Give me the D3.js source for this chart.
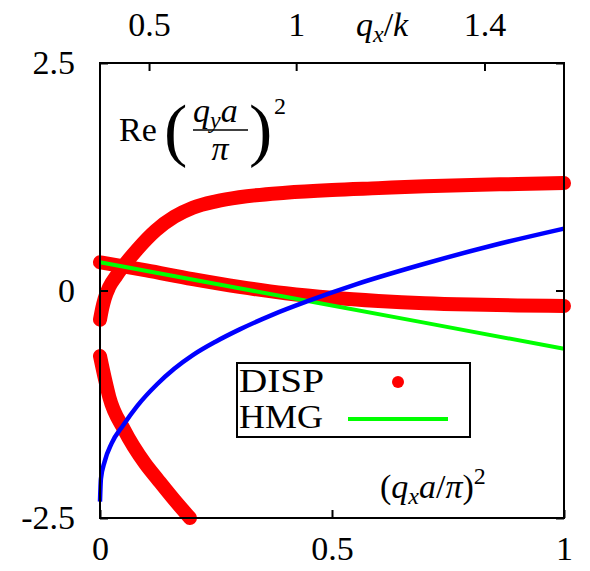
<!DOCTYPE html>
<html>
<head>
<meta charset="utf-8">
<script src="https://cdn.jsdelivr.net/npm/d3@7"></script>
<style>
  body { margin: 0; background: #fff; }
  text { font-family: "Liberation Serif", "Times New Roman", serif; fill: #000; }
</style>
</head>
<body>
<svg id="chart" width="590" height="571"></svg>
<script>
// data, u = (q_x a / pi)^2
var dispUpperU = [0, 0.005, 0.01, 0.02, 0.035, 0.05, 0.08, 0.12, 0.16, 0.2, 0.25, 0.3, 0.4, 0.5, 0.6, 0.7, 0.8, 0.9, 1.0];
var dispUpperV = [-0.32, -0.19, -0.09, 0.04, 0.16, 0.265, 0.45, 0.66, 0.81, 0.91, 0.98, 1.025, 1.075, 1.105, 1.125, 1.145, 1.16, 1.17, 1.18];

var dispLowerU = [0, 0.1, 0.2, 0.3, 0.4, 0.5, 0.6, 0.7, 0.8, 0.9, 1.0];
var dispLowerV = [0.31, 0.22, 0.125, 0.04, -0.03, -0.08, -0.115, -0.14, -0.155, -0.165, -0.17];

var dispThirdU = [0, 0.011, 0.02, 0.052, 0.097, 0.125, 0.16, 0.194];
var dispThirdV = [-0.72, -0.98, -1.17, -1.53, -1.9, -2.08, -2.3, -2.5];

var hmgU = [0, 0.3, 0.69, 1.0];
var hmgV = [0.31, 0.025, -0.345, -0.64];

var blueU = [0, 0.002, 0.01, 0.025, 0.05, 0.08, 0.123, 0.16, 0.2, 0.25, 0.3, 0.37, 0.446, 0.55, 0.69, 0.85, 1.0];
var blueV = [-2.32, -2.07, -1.88, -1.68, -1.48, -1.27, -1.03, -0.86, -0.71, -0.56, -0.43, -0.27, -0.12, 0.065, 0.28, 0.5, 0.68];

var xTicks = [0, 0.5, 1];
var yTicks = [-2.5, 0, 2.5];
var yTickLabels = ["-2.5", "0", "2.5"];
var x2Ticks = [0.5, 1, 1.4];
var kaMax = 1.538; // q_x/k at (q_x a/pi)^2 = 1

var svg = d3.select("#chart");
var pLeft = 100, pRight = 564, pTop = 63, pBottom = 518;

var x = d3.scaleLinear().domain([0, 1]).range([pLeft, pRight]);
var y = d3.scaleLinear().domain([-2.5, 2.5]).range([pBottom, pTop]);
var x2 = d3.scalePow().exponent(2).domain([0, kaMax]).range([pLeft, pRight]);

function pairs(us, vs) { return us.map(function(u, i) { return [u, vs[i]]; }); }

var line = d3.line()
    .x(function(d) { return x(d[0]); })
    .y(function(d) { return y(d[1]); })
    .curve(d3.curveMonotoneX);

// DISP points (dense, drawn as a thick band)
[pairs(dispUpperU, dispUpperV), pairs(dispLowerU, dispLowerV), pairs(dispThirdU, dispThirdV)]
  .forEach(function(d) {
    svg.append("path")
        .attr("d", line(d))
        .attr("fill", "none")
        .attr("stroke", "#ff0000")
        .attr("stroke-width", 14)
        .attr("stroke-linecap", "round")
        .attr("stroke-linejoin", "round");
  });

svg.append("path")
    .attr("d", line(pairs(hmgU, hmgV)))
    .attr("fill", "none")
    .attr("stroke", "#00ff00")
    .attr("stroke-width", 4);

svg.append("path")
    .attr("d", line(pairs(blueU, blueV)))
    .attr("fill", "none")
    .attr("stroke", "#0000ff")
    .attr("stroke-width", 4.5);

// frame
svg.append("rect")
    .attr("x", pLeft).attr("y", pTop)
    .attr("width", pRight - pLeft).attr("height", pBottom - pTop)
    .attr("fill", "none").attr("stroke", "#000").attr("stroke-width", 2);

function styleAxis(g) {
  g.select(".domain").remove();
  g.selectAll(".tick line").attr("stroke", "#000").attr("stroke-width", 2);
  g.selectAll(".tick text").attr("font-size", 34).attr("font-family", "Liberation Serif").attr("fill", "#000");
}

svg.append("g")
    .attr("transform", "translate(0," + pBottom + ")")
    .call(d3.axisBottom(x).tickValues(xTicks).tickFormat(d3.format("")).tickSizeInner(-8).tickSizeOuter(0).tickPadding(18))
    .call(styleAxis);

svg.append("g")
    .attr("transform", "translate(" + pLeft + ",0)")
    .call(d3.axisLeft(y).tickValues(yTicks).tickFormat(function(d, i) { return yTickLabels[i]; })
      .tickSizeInner(-8).tickSizeOuter(0).tickPadding(25))
    .call(styleAxis);

svg.append("g")
    .attr("transform", "translate(" + pRight + ",0)")
    .call(d3.axisRight(y).tickValues(yTicks).tickFormat("").tickSizeInner(-8).tickSizeOuter(0))
    .call(styleAxis);

svg.append("g")
    .attr("transform", "translate(0," + pTop + ")")
    .call(d3.axisTop(x2).tickValues(x2Ticks).tickFormat(d3.format("")).tickSizeInner(-8).tickSizeOuter(0).tickPadding(27))
    .call(styleAxis);

// top axis title q_x/k
var t2 = svg.append("text").attr("x", 356).attr("y", 36).attr("font-size", 34);
t2.append("tspan").attr("font-style", "italic").text("q");
t2.append("tspan").attr("font-style", "italic").attr("font-size", 24).attr("dy", 6).text("x");
t2.append("tspan").attr("dy", -6).text("/");
t2.append("tspan").attr("font-style", "italic").text("k");

// bottom axis title (q_x a/pi)^2
var tb = svg.append("text").attr("x", 380).attr("y", 498).attr("font-size", 34);
tb.append("tspan").text("(");
tb.append("tspan").attr("font-style", "italic").text("q");
tb.append("tspan").attr("font-style", "italic").attr("font-size", 24).attr("dy", 6).text("x");
tb.append("tspan").attr("font-style", "italic").attr("dy", -6).text("a");
tb.append("tspan").text("/");
tb.append("tspan").attr("font-style", "italic").text("\u03c0");
tb.append("tspan").text(")");
tb.append("tspan").attr("font-size", 24).attr("dy", -14).text("2");

// y axis title Re (q_y a / pi)^2
svg.append("text").attr("x", 119).attr("y", 141).attr("font-size", 34).text("Re");
svg.append("text").attr("x", 164).attr("y", 153).attr("font-size", 70).text("(");
var num = svg.append("text").attr("x", 193).attr("y", 122).attr("font-size", 34);
num.append("tspan").attr("font-style", "italic").text("q");
num.append("tspan").attr("font-style", "italic").attr("font-size", 24).attr("dy", 6).text("y");
num.append("tspan").attr("font-style", "italic").attr("dy", -6).text("a");
svg.append("line").attr("x1", 193).attr("x2", 248).attr("y1", 130).attr("y2", 130)
    .attr("stroke", "#000").attr("stroke-width", 1.5);
svg.append("text").attr("x", 220).attr("y", 160).attr("font-size", 34)
    .attr("font-style", "italic").attr("text-anchor", "middle").text("\u03c0");
svg.append("text").attr("x", 249).attr("y", 153).attr("font-size", 70).text(")");
svg.append("text").attr("x", 274).attr("y", 114).attr("font-size", 24).text("2");

// legend
var legend = svg.append("g").attr("id", "legend");
legend.append("rect")
    .attr("x", 237).attr("y", 363).attr("width", 233).attr("height", 74)
    .attr("fill", "#fff").attr("stroke", "#000").attr("stroke-width", 2);
legend.append("text").attr("x", 239).attr("y", 392).attr("font-size", 34)
    .attr("textLength", 85).attr("lengthAdjust", "spacingAndGlyphs").text("DISP");
legend.append("text").attr("x", 239).attr("y", 428).attr("font-size", 34)
    .attr("textLength", 84).attr("lengthAdjust", "spacingAndGlyphs").text("HMG");
legend.append("circle").attr("cx", 398).attr("cy", 382).attr("r", 6).attr("fill", "#ff0000");
legend.append("line").attr("x1", 348).attr("x2", 448).attr("y1", 419).attr("y2", 419)
    .attr("stroke", "#00ff00").attr("stroke-width", 4);
</script>
</body>
</html>
